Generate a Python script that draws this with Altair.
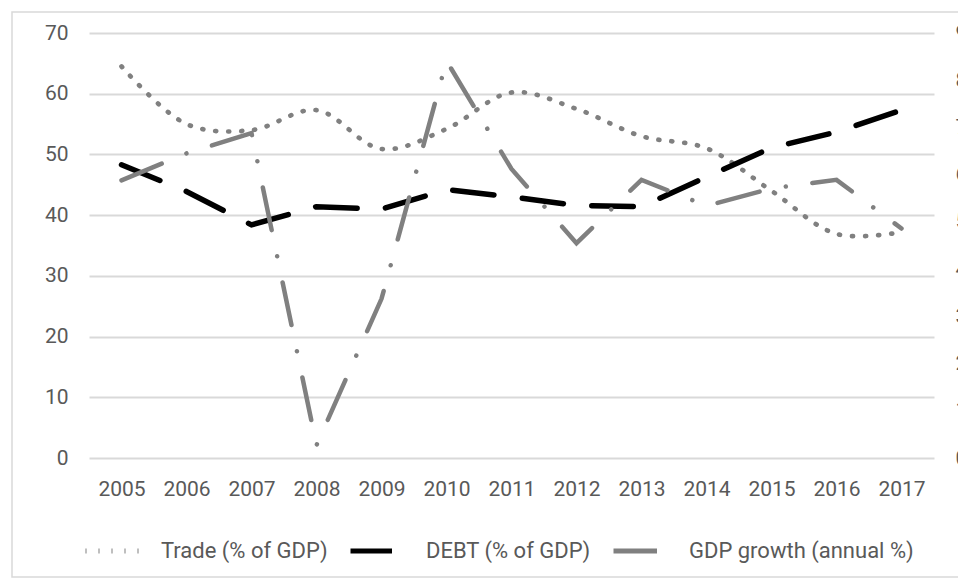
import altair as alt
import pandas as pd

# Annual series, 2005-2017
years = [str(y) for y in range(2005, 2018)]
trade = [64.5, 55.0, 54.0, 57.3, 50.9, 54.2, 60.2, 57.5, 53.0, 51.0, 44.0, 36.9, 37.2]
debt = [48.3, 43.9, 38.4, 41.4, 41.0, 44.2, 43.0, 41.6, 41.4, 46.3, 51.1, 53.7, 57.3]
gdp_growth = [5.88, 6.45, 6.88, 0.27, 3.37, 8.41, 6.12, 4.55, 5.89, 5.34, 5.71, 5.89, 4.86]

series_names = ["Trade (% of GDP)", "DEBT (% of GDP)", "GDP growth (annual %)"]
left_ticks = [0, 10, 20, 30, 40, 50, 60, 70]
right_ticks = [0, 1, 2, 3, 4, 5, 6, 7, 8, 9]

FONT = "Roboto"
TEXT = "#595959"
GRID = "#d9d9d9"

trade_df = pd.DataFrame({"year": years, "value": trade, "series": series_names[0]})
debt_df = pd.DataFrame({"year": years, "value": debt, "series": series_names[1]})
gdp_df = pd.DataFrame({"year": years, "value": gdp_growth, "series": series_names[2]})

legend = alt.Legend(
    title=None,
    orient="none",
    legendX=-6,
    legendY=488,
    direction="horizontal",
    symbolType="stroke",
    symbolSize=3025,
    symbolStrokeWidth=5,
    labelFont=FONT,
    labelFontSize=22,
    labelColor=TEXT,
    labelLimit=0,
    labelOffset=18,
    columnPadding=12,
)

color = alt.Color(
    "series:N",
    scale=alt.Scale(domain=series_names, range=["#808080", "#000000", "#808080"]),
    legend=legend,
)
dash = alt.StrokeDash(
    "series:N",
    scale=alt.Scale(
        domain=series_names,
        range=[[1.0, 12.0], [41.5, 28.5], [43.5, 26.75, 0.01, 26.75]],
    ),
    legend=legend,
)

x = alt.X(
    "year:O",
    sort=years,
    title=None,
    axis=alt.Axis(
        labelAngle=0, ticks=False, domain=False, grid=False,
        labelFont=FONT, labelFontSize=21, labelColor=TEXT, labelPadding=20,
    ),
)

y_left = alt.Y(
    "value:Q",
    title=None,
    scale=alt.Scale(domain=[0, 70], nice=False),
    axis=alt.Axis(
        orient="left", values=left_ticks, ticks=False, domain=False,
        grid=True, gridColor=GRID, gridWidth=2,
        labelFont=FONT, labelFontSize=21, labelColor=TEXT, labelPadding=21,
    ),
)

y_right = alt.Y(
    "value:Q",
    title=None,
    scale=alt.Scale(domain=[0, 9], nice=False),
    axis=alt.Axis(
        orient="right", values=right_ticks, ticks=False, domain=False, grid=False,
        labelFont=FONT, labelFontSize=21, labelColor=TEXT, labelPadding=21,
        labelAlign="left",
    ),
)

trade_line = alt.Chart(trade_df).mark_line(
    interpolate="catmull-rom", strokeCap="round", strokeWidth=4.7
).encode(x=x, y=y_left, color=color, strokeDash=dash)

debt_line = alt.Chart(debt_df).mark_line(
    strokeCap="round", strokeWidth=5.5
).encode(x=x, y=y_left, color=color, strokeDash=dash)

gdp_line = alt.Chart(gdp_df).mark_line(
    strokeCap="round", strokeWidth=4.5
).encode(x=x, y=y_right, color=color, strokeDash=dash)

# light frame around the whole chart
frame = alt.Chart(pd.DataFrame({"k": [0]})).mark_rect(
    fillOpacity=0, stroke=GRID, strokeWidth=1.5
).encode(
    x=alt.value(-77), x2=alt.value(900),
    y=alt.value(-21), y2=alt.value(544),
)

left_layer = alt.layer(trade_line, debt_line)

chart = (
    alt.layer(frame, left_layer, gdp_line)
    .resolve_scale(y="independent")
    .properties(
        width=845,
        height=425,
        padding={"left": 89, "top": 33, "right": 24, "bottom": 123},
        autosize=alt.AutoSizeParams(type="none"),
        background="white",
    )
    .configure_view(stroke=None)
)

chart.save("out.html", embed_options={"renderer": "svg", "actions": False})
